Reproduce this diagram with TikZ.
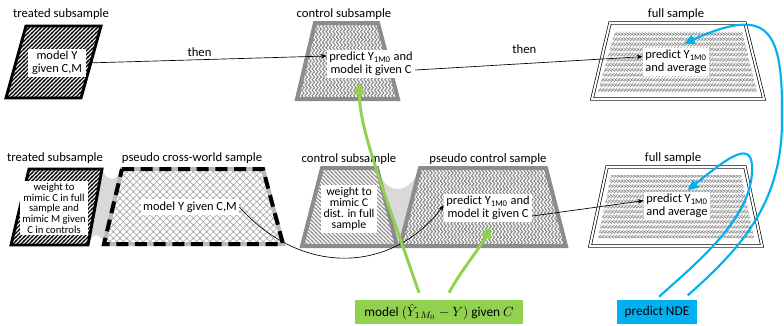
\documentclass[tikz,border=0pt]{standalone}
\usepackage{fontspec}
\setmainfont{Carlito}
\usetikzlibrary{patterns,arrows.meta}

% fill patterns for the sample shapes
\pgfdeclarepatternformonly{ne thick}{\pgfqpoint{-1pt}{-1pt}}{\pgfqpoint{4pt}{4pt}}{\pgfqpoint{3pt}{3pt}}{%
  \pgfsetlinewidth{0.85pt}\pgfpathmoveto{\pgfqpoint{-0.5pt}{-0.5pt}}\pgfpathlineto{\pgfqpoint{3.5pt}{3.5pt}}\pgfusepath{stroke}}
\pgfdeclarepatternformonly{nw thick}{\pgfqpoint{-1pt}{-1pt}}{\pgfqpoint{4pt}{4pt}}{\pgfqpoint{3pt}{3pt}}{%
  \pgfsetlinewidth{0.8pt}\pgfpathmoveto{\pgfqpoint{-0.5pt}{3.5pt}}\pgfpathlineto{\pgfqpoint{3.5pt}{-0.5pt}}\pgfusepath{stroke}}
% herringbone: vertical zigzags side by side
\pgfdeclarepatternformonly{herring}{\pgfqpoint{-1pt}{-1pt}}{\pgfqpoint{3.6pt}{5pt}}{\pgfqpoint{2.6pt}{4pt}}{%
  \pgfsetlinewidth{0.85pt}\pgfsetroundcap
  \pgfpathmoveto{\pgfqpoint{0pt}{0pt}}\pgfpathlineto{\pgfqpoint{1.9pt}{2pt}}\pgfpathlineto{\pgfqpoint{0pt}{4pt}}\pgfusepath{stroke}}
% rows of slanted crossed strokes
\pgfdeclarepatternformonly{chain}{\pgfqpoint{-1pt}{-1pt}}{\pgfqpoint{3.4pt}{4.8pt}}{\pgfqpoint{2.4pt}{3.8pt}}{%
  \pgfsetlinewidth{0.45pt}\pgfsetroundcap
  \pgfpathmoveto{\pgfqpoint{0pt}{0pt}}\pgfpathlineto{\pgfqpoint{2pt}{3pt}}
  \pgfpathmoveto{\pgfqpoint{0pt}{2.2pt}}\pgfpathlineto{\pgfqpoint{2.4pt}{0.6pt}}\pgfusepath{stroke}}
\pgfdeclarepatternformonly{xhatch}{\pgfqpoint{-1pt}{-1pt}}{\pgfqpoint{6pt}{6pt}}{\pgfqpoint{5pt}{5pt}}{%
  \pgfsetlinewidth{0.45pt}
  \pgfpathmoveto{\pgfqpoint{-0.5pt}{-0.5pt}}\pgfpathlineto{\pgfqpoint{5.5pt}{5.5pt}}
  \pgfpathmoveto{\pgfqpoint{-0.5pt}{5.5pt}}\pgfpathlineto{\pgfqpoint{5.5pt}{-0.5pt}}\pgfusepath{stroke}}

\definecolor{ctrlgray}{HTML}{8C8C8C}
\definecolor{hatchgray}{HTML}{8E8E8E}
\definecolor{lightgray}{HTML}{AAAAAA}
\definecolor{bridge}{HTML}{D9D9D9}
\definecolor{modelgreen}{HTML}{92D050}
\definecolor{ndeblue}{HTML}{00B0F0}

\begin{document}
\begin{tikzpicture}[x=0.75pt,y=-0.75pt,
  lbl/.style={font=\fontsize{9.5}{11}\selectfont, inner sep=0pt},
  tbox/.style={fill=white, inner sep=1.8pt, align=center, font=\fontsize{9.3}{9.4}\selectfont},
  sbox/.style={fill=white, inner sep=1.8pt, align=center, font=\fontsize{8}{8}\selectfont},
  mbox/.style={fill=white, inner sep=1.8pt, align=center, font=\fontsize{8.9}{8.4}\selectfont},
  treatedshape/.style={draw=black, line width=2.2pt, pattern=ne thick, pattern color=black},
  ctrlshape/.style={draw=ctrlgray, line width=3pt, pattern=herring, pattern color=ctrlgray},
  fullshape/.style={draw=black, line width=0.5pt, double=white, double distance=1.5pt},
  fullfill/.style={pattern=chain, pattern color=hatchgray},
  flow/.style={-{Stealth[length=4.5pt,width=3.5pt]}, line width=0.5pt},
  greenarr/.style={draw=modelgreen, line width=2.2pt, -{Triangle[length=9pt,width=8pt]}},
  bluearr/.style={draw=ndeblue, line width=1.6pt, -{Triangle[length=8pt,width=7pt]}},
]
\useasboundingbox (0,0) rectangle (784,325);

% ---- upper row ----
\draw[treatedshape] (26,26) -- (101,26) -- (81,98) -- (6,98) -- cycle;
\draw[ctrlshape] (315,23) -- (378,23) -- (398,99) -- (297,99) -- cycle;
\fill[fullfill] (615,31) -- (742,31) -- (757,92) -- (598,92) -- cycle;
\draw[fullshape] (610,23) -- (745,23) -- (764,99) -- (592,99) -- cycle;

\node[lbl] (l1) at (61,14) {treated subsample};
\node[lbl] (l2) at (344,14) {control subsample};
\node[lbl] (l3) at (676,14) {full sample};

\node[tbox, minimum width=44pt] (tm) at (57,63) {model Y\\given C,M};
\node[tbox] (cp) at (371,64) {predict Y\textsubscript{1M0} and\\model it given C};
\node[tbox] (ft) at (676,62) {predict Y\textsubscript{1M0}\\and average};

% ---- lower row ----
\fill[bridge] (102,169) .. controls (106,182) and (118,182) .. (122,169) -- (104,244)
  .. controls (100,232) and (92,232) .. (88,245) -- cycle;
\fill[bridge] (377,168) .. controls (385,196) and (410,196) .. (420,168) -- (400,246) -- (397,246) -- cycle;

\draw[treatedshape] (29,169) -- (102,169) -- (88,245) -- (11,245) -- cycle;
\fill[pattern=xhatch, pattern color=lightgray] (122,169) -- (263,169) -- (283,244) -- (104,244) -- cycle;
\draw[line width=3pt, draw=gray!55] (122,169) -- (263,169) -- (283,244) -- (104,244) -- cycle;
\draw[line width=3pt, dash pattern=on 9pt off 5pt] (122,169) -- (263,169) -- (283,244) -- (104,244) -- cycle;
\draw[line width=3pt, draw=ctrlgray, pattern=nw thick, pattern color=ctrlgray]
  (322,168) -- (377,168) -- (397,246) -- (302,246) -- cycle;
\draw[ctrlshape] (420,168) -- (546,168) -- (566,246) -- (400,246) -- cycle;
\fill[fullfill] (611,175) -- (741,175) -- (754,238) -- (598,238) -- cycle;
\draw[fullshape] (607,167) -- (745,167) -- (762,246) -- (590,246) -- cycle;

\node[lbl] (l4) at (55,158) {treated subsample};
\node[lbl] (l5) at (192,158) {pseudo cross-world sample};
\node[lbl] (l6) at (349,159) {control subsample};
\node[lbl] (l7) at (488,159) {pseudo control sample};
\node[lbl] (l8) at (673,158) {full sample};

\node[sbox] (tw) at (54,208) {weight to\\mimic C in full\\sample and\\mimic M given\\C in controls};
\node[tbox] (xm) at (190,207) {model Y given C,M};
\node[mbox] (cw) at (349,209) {weight to\\mimic C\\dist. in full\\sample};
\node[tbox] (pc) at (488,208) {predict Y\textsubscript{1M0} and\\model it given C};
\node[tbox] (bf) at (677,206) {predict Y\textsubscript{1M0}\\and average};

% ---- bottom boxes ----
\node[fill=modelgreen, minimum width=126pt, minimum height=18.5pt, inner sep=0pt,
      font=\fontsize{10}{12}\selectfont] (mg) at (439,312) {model $(\hat{Y}_{1M_0}-Y)$ given $C$};
\node[fill=ndeblue, minimum width=60pt, minimum height=18.5pt, inner sep=0pt,
      font=\fontsize{10}{12}\selectfont] (nde) at (657,312) {predict NDE};

% ---- connectors ----
\draw[flow] (tm.east) -- node[lbl, above=2pt, pos=0.47] {then} ([yshift=6pt]cp.west);
\draw[flow] ([yshift=-4.5pt]cp.east) -- node[lbl, above=7pt, pos=0.48] {then} ([yshift=4pt]ft.west);
\draw[flow] (xm.east) .. controls (300,275) and (390,275) .. ([yshift=2pt]pc.west);
\draw[flow] ([yshift=-6pt]pc.east) -- ([yshift=4pt]bf.west);

\draw[greenarr] ([xshift=-15pt,yshift=5pt]mg.north) .. controls (380,180) and (360,130) .. ([xshift=-9pt,yshift=-3pt]cp.south);
\draw[greenarr] ([xshift=7.5pt,yshift=5pt]mg.north) .. controls (460,272) and (482,245) .. ([xshift=2pt,yshift=-3pt]pc.south);

\draw[bluearr] ([xshift=1.5pt,yshift=2pt]nde.north) .. controls (700,260) and (755,215) .. (752,165)
  .. controls (750,140) and (725,160) .. ([xshift=8pt,yshift=1pt]bf.north);
\draw[bluearr] ([xshift=23pt,yshift=3pt]nde.north) .. controls (745,245) and (782,200) .. (782,120)
  .. controls (783,30) and (770,5) .. ([xshift=6pt,yshift=3pt]ft.north);
\end{tikzpicture}
\end{document}
